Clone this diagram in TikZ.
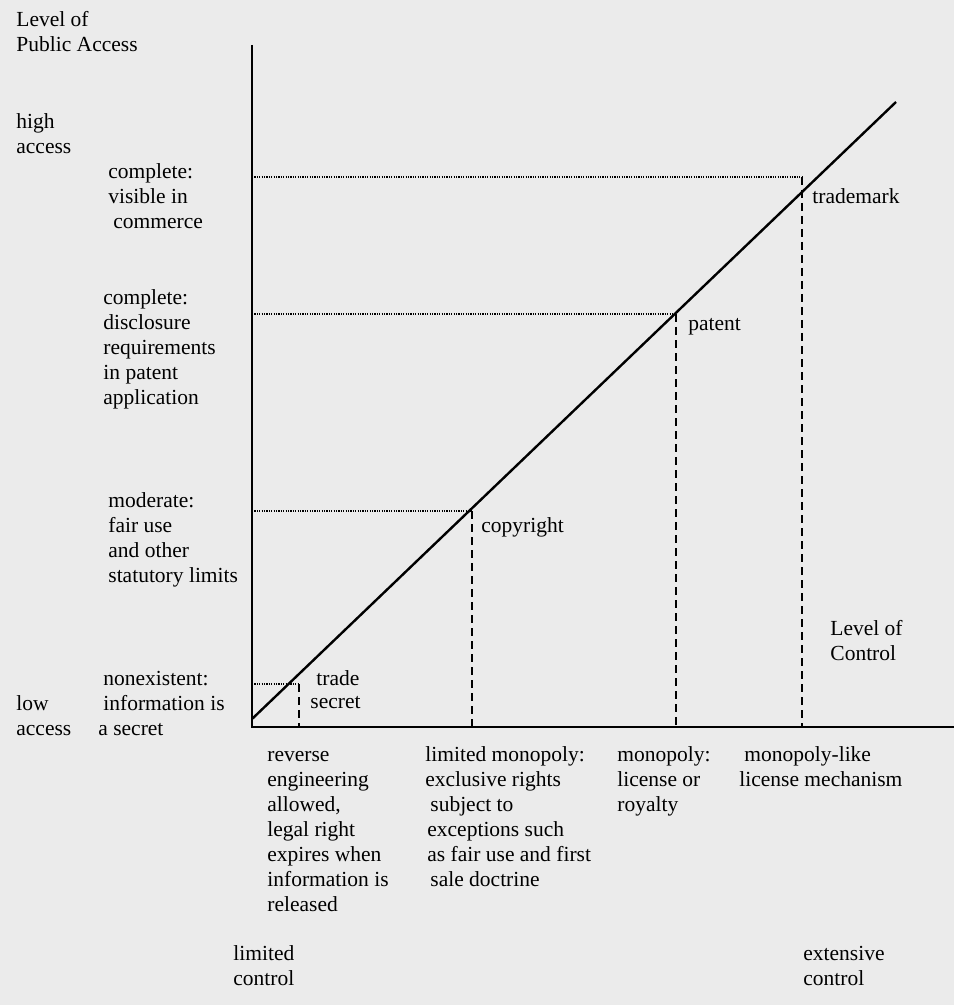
\documentclass[tikz,border=0pt]{standalone}
\usepackage{fontspec}
\setmainfont{Liberation Serif}
\definecolor{bgc}{HTML}{EBEBEB}
\begin{document}
\begin{tikzpicture}[x=0.5pt,y=-0.5pt,
  lbl/.style={font=\fontsize{10.75}{12.5}\selectfont, align=left, inner sep=0pt, anchor=north west},
  axisline/.style={line width=1pt},
  diag/.style={line width=1.2pt},
  guide/.style={line width=0.6pt, dash pattern=on 0.6pt off 0.6pt},
  drop/.style={line width=1pt, dash pattern=on 4pt off 2.5pt}]
\fill[bgc] (0,0) rectangle (954,1005);
\useasboundingbox (0,0) rectangle (954,1005);
% axes
\coordinate (O) at (252,727);
\coordinate (ytop) at (252,45);
\coordinate (xend) at (954,727);
\coordinate (dstart) at (252,719);
\coordinate (dend) at (896,102);
% guide points
\coordinate (tsy) at (252,684);  \coordinate (tsp) at (299,684);  \coordinate (tsx) at (299,727);
\coordinate (cry) at (252,511);  \coordinate (crp) at (472,511);  \coordinate (crx) at (472,727);
\coordinate (pty) at (252,314);  \coordinate (ptp) at (676,314);  \coordinate (ptx) at (676,727);
\coordinate (tmy) at (252,177);  \coordinate (tmp) at (802,177);  \coordinate (tmx) at (802,727);
\draw[guide] (tsy) -- (tsp);
\draw[guide] (cry) -- (crp);
\draw[guide] (pty) -- (ptp);
\draw[guide] (tmy) -- (tmp);
\draw[drop] (tsp) -- (tsx);
\draw[drop] (crp) -- (crx);
\draw[drop] (ptp) -- (ptx);
\draw[drop] (tmp) -- (tmx);
\draw[axisline] (ytop) -- (O) -- (xend);
\draw[diag] (dstart) -- (dend);
% left labels (node placed at first baseline - 17.5)
\node[lbl] (yl) at (16,8.5) {\strut Level of\\Public Access};
\node[lbl] (hi) at (16,110.5) {\strut high\\access};
\node[lbl] (l4a) at (108,160.5) {\strut complete:\\visible in};
\node[lbl] (l4b) at (113,210.5) {\strut commerce};
\node[lbl] (l3) at (103,286.5) {\strut complete:\\disclosure\\requirements\\in patent\\application};
\node[lbl] (l2) at (108,489.5) {\strut moderate:\\fair use\\and other\\statutory limits};
\node[lbl] (l1a) at (103,667.5) {\strut nonexistent:\\information is};
\node[lbl] (l1b) at (98,717.5) {\strut a secret};
\node[lbl] (lo) at (16,692.5) {\strut low\\access};
% point labels
\node[lbl] (tsl1) at (316,667.5) {\strut trade};
\node[lbl] (tsl2) at (310,690.5) {\strut secret};
\node[lbl] (crl) at (481,514.5) {\strut copyright};
\node[lbl] (ptl) at (688,312.5) {\strut patent};
\node[lbl] (tml) at (812,185.5) {\strut trademark};
\node[lbl] (xl) at (830,617.5) {\strut Level of\\Control};
% bottom labels
\node[lbl] (b1) at (267,743.5) {\strut reverse\\engineering\\allowed,\\legal right\\expires when\\information is\\released};
\node[lbl] (b2a) at (425,743.5) {\strut limited monopoly:\\exclusive rights};
\node[lbl] (b2b) at (430,793.5) {\strut subject to};
\node[lbl] (b2c) at (427,818.5) {\strut exceptions such\\as fair use and first};
\node[lbl] (b2d) at (430,868.5) {\strut sale doctrine};
\node[lbl] (b3) at (617,743.5) {\strut monopoly:\\license or\\royalty};
\node[lbl] (b4a) at (744,743.5) {\strut monopoly-like};
\node[lbl] (b4b) at (739,768.5) {\strut license mechanism};
\node[lbl] (lc) at (233,942.5) {\strut limited\\control};
\node[lbl] (ec) at (803,942.5) {\strut extensive\\control};
\end{tikzpicture}
\end{document}
